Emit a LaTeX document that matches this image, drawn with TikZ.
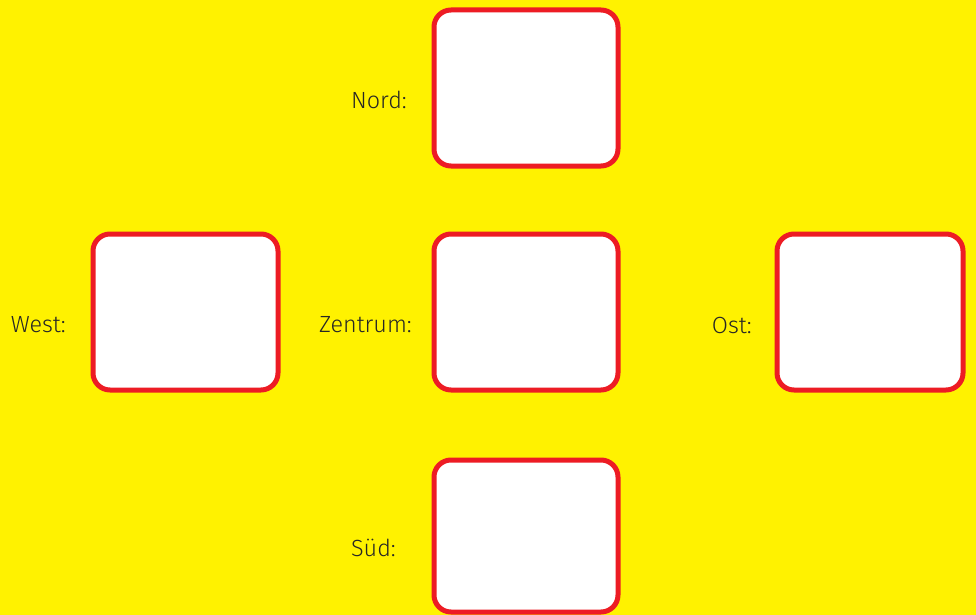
\documentclass[tikz,border=0pt]{standalone}
\usepackage{fontspec}
\setmainfont{Fira Sans}[UprightFont=* Light]
\definecolor{bgyellow}{HTML}{FFF200}
\definecolor{boxred}{HTML}{ED1C24}
\begin{document}
\begin{tikzpicture}[x=1pt,y=-1pt,
  box/.style={draw=boxred,fill=white,line width=5pt,rounded corners=17pt},
  lab/.style={anchor=east,inner sep=0pt,font=\fontsize{23.4}{28}\selectfont,text=black!85}]
\fill[bgyellow] (0,0) rectangle (976,615);
\useasboundingbox (0,0) rectangle (976,615);
\draw[box] (434,10) rectangle (618,166);
\draw[box] (93,234) rectangle (278,390);
\draw[box] (434,234) rectangle (618,390);
\draw[box] (777,234) rectangle (963,390);
\draw[box] (434,460) rectangle (618,612);
\node[lab] (nord) at (407,100) {Nord:};
\node[lab] (west) at (66,325) {West:};
\node[lab] (zentrum) at (412,325) {Zentrum:};
\node[lab] (ost) at (752,325) {Ost:};
\node[lab] (sued) at (396,548) {Süd:};
\end{tikzpicture}
\end{document}
